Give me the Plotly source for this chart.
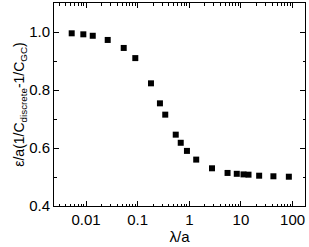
import plotly.graph_objects as go

lam = [0.00528, 0.00887, 0.0135, 0.0263, 0.0537, 0.090, 0.181, 0.270, 0.342,
       0.546, 0.682, 0.90, 1.36, 2.75, 5.5, 8.3, 11.2, 14.0, 22.5, 42.5, 84.6]
eps = [0.9955, 0.992, 0.987, 0.9726, 0.945, 0.910, 0.823, 0.754, 0.715,
       0.646, 0.618, 0.590, 0.560, 0.530, 0.514, 0.511, 0.509, 0.508, 0.5045, 0.5025, 0.501]

xticks = [0.01, 0.1, 1, 10, 100]
xticktext = ["0.01", "0.1", "1", "10", "100"]
yticks = [0.4, 0.6, 0.8, 1.0]
yticktext = ["0.4", "0.6", "0.8", "1.0"]

fig = go.Figure(go.Scatter(x=lam, y=eps, mode="markers", cliponaxis=False,
                           marker=dict(symbol="square", size=6, color="black")))
font = dict(family="Liberation Sans, Arial, sans-serif", size=15, color="black")
fig.update_layout(
    width=309, height=247, margin=dict(l=54, r=4, t=3, b=41, autoexpand=False),
    paper_bgcolor="white", plot_bgcolor="white", showlegend=False, font=font,
    xaxis=dict(type="log", range=[-2.62, 2.24], tickvals=xticks, ticktext=xticktext,
               ticks="inside", ticklen=5, tickcolor="black", showline=True, linecolor="black",
               linewidth=1, mirror="ticks", showgrid=False, zeroline=False, automargin=False,
               minor=dict(ticks="inside", ticklen=2.5, dtick="D1", tickcolor="black", showgrid=False),
               title=dict(text="λ/a", standoff=1, font=dict(size=15))),
    yaxis=dict(range=[0.4, 1.1], tickvals=yticks, ticktext=yticktext,
               ticks="inside", ticklen=5, tickcolor="black", showline=True, linecolor="black",
               linewidth=1, mirror="ticks", showgrid=False, zeroline=False, automargin=False,
               minor=dict(ticks="inside", ticklen=2.5, dtick=0.1, tickcolor="black", showgrid=False),
               title=dict(text="ε/a(1/C<sub>discrete</sub>-1/C<sub>GC</sub>)", standoff=1, font=dict(size=14))),
)
fig.write_html("out.html", config={"displayModeBar": False},
               post_script="document.body.style.margin='0';")
